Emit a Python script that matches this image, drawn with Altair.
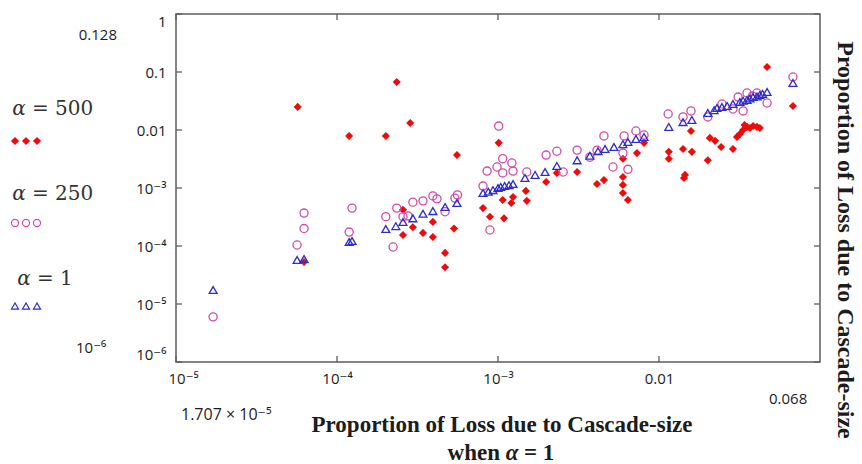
import altair as alt
import pandas as pd

# ---------------- data ----------------
A1_X = [1.70e-5, 5.65e-5, 6.24e-5, 1.19e-4, 1.24e-4, 2.01e-4, 2.32e-4, 2.57e-4, 2.96e-4, 3.42e-4,
        3.94e-4, 4.69e-4, 5.56e-4, 8.07e-4, 8.7e-4, 9.31e-4, 1.0e-3, 1.04e-3, 1.10e-3, 1.17e-3,
        1.24e-3, 1.47e-3, 1.70e-3, 1.96e-3, 2.32e-3, 3.10e-3, 3.72e-3, 4.18e-3, 4.62e-3, 5.25e-3,
        5.97e-3, 6.41e-3, 7.19e-3, 8.07e-3, 1.15e-2, 1.41e-2, 1.60e-2, 2.01e-2, 2.2e-2, 2.29e-2,
        2.46e-2, 2.65e-2, 2.88e-2, 3.18e-2, 3.33e-2, 3.52e-2, 3.67e-2, 3.84e-2, 4.06e-2, 4.23e-2,
        4.4e-2, 4.69e-2, 6.79e-2]
A1_Y = [1.74e-5, 5.74e-5, 5.97e-5, 1.17e-4, 1.22e-4, 1.96e-4, 2.2e-4, 2.6e-4, 3.0e-4, 3.6e-4,
        4.0e-4, 4.7e-4, 5.5e-4, 8.2e-4, 8.6e-4, 9.2e-4, 1.0e-3, 1.04e-3, 1.08e-3, 1.12e-3,
        1.17e-3, 1.49e-3, 1.68e-3, 1.89e-3, 2.4e-3, 3.0e-3, 3.6e-3, 4.3e-3, 4.7e-3, 5.1e-3,
        5.7e-3, 6.2e-3, 7.0e-3, 7.6e-3, 1.13e-2, 1.37e-2, 1.49e-2, 1.96e-2, 2.2e-2, 2.39e-2,
        2.49e-2, 2.6e-2, 2.81e-2, 3.04e-2, 3.2e-2, 3.29e-2, 3.5e-2, 3.71e-2, 3.8e-2, 4.0e-2,
        4.2e-2, 4.52e-2, 6.46e-2]

A250_X = [1.70e-5, 5.65e-5, 6.24e-5, 6.24e-5, 1.19e-4, 1.24e-4, 2.01e-4, 2.23e-4, 2.35e-4, 2.57e-4,
          2.76e-4, 2.96e-4, 3.42e-4, 3.94e-4, 4.18e-4, 4.69e-4, 5.4e-4, 5.6e-4, 8.07e-4, 8.55e-4,
          8.91e-4, 9.86e-4, 1.01e-3, 1.07e-3, 1.07e-3, 1.22e-3, 1.24e-3, 1.51e-3, 1.99e-3, 2.32e-3,
          2.54e-3, 3.10e-3, 3.72e-3, 4.12e-3, 4.55e-3, 5.18e-3, 5.97e-3, 6.07e-3, 6.41e-3, 7.19e-3,
          8.07e-3, 1.14e-2, 1.41e-2, 1.58e-2, 2.01e-2, 2.46e-2, 2.88e-2, 3.1e-2, 3.33e-2, 3.52e-2,
          3.8e-2, 4.06e-2, 4.69e-2, 6.79e-2]
A250_Y = [6.0e-6, 1.04e-4, 2.0e-4, 3.7e-4, 1.74e-4, 4.5e-4, 3.2e-4, 9.6e-5, 4.5e-4, 3.2e-4,
          3.3e-4, 5.7e-4, 6.0e-4, 7.3e-4, 6.5e-4, 3.9e-4, 6.7e-4, 7.6e-4, 1.08e-3, 1.96e-3,
          1.89e-4, 2.3e-3, 1.17e-2, 3.2e-3, 1.82e-3, 2.7e-3, 1.96e-3, 1.89e-3, 3.7e-3, 4.3e-3,
          1.89e-3, 4.5e-3, 3.4e-3, 4.5e-3, 7.9e-3, 2.3e-3, 4.0e-3, 7.9e-3, 2.1e-3, 9.6e-3,
          8.2e-3, 1.89e-2, 1.68e-2, 2.13e-2, 1.68e-2, 2.81e-2, 2.3e-2, 3.7e-2, 2.13e-2, 4.34e-2,
          3.85e-2, 4.34e-2, 2.92e-2, 8.2e-2]

A500_X = [5.7e-5, 6.24e-5, 1.19e-4, 2.01e-4, 2.35e-4, 2.57e-4, 2.57e-4, 2.85e-4, 2.96e-4, 3.42e-4,
          3.94e-4, 3.94e-4, 4.69e-4, 4.69e-4, 5.33e-4, 5.56e-4, 8.07e-4, 8.91e-4, 1.01e-3, 1.07e-3,
          1.09e-3, 1.21e-3, 1.24e-3, 1.49e-3, 1.51e-3, 1.99e-3, 2.32e-3, 3.10e-3, 4.12e-3, 4.55e-3,
          5.97e-3, 5.97e-3, 5.97e-3, 5.97e-3, 6.41e-3, 7.30e-3, 8.07e-3, 1.15e-2, 1.15e-2, 1.41e-2,
          1.43e-2, 1.45e-2, 1.58e-2, 1.60e-2, 2.01e-2, 2.07e-2, 2.23e-2, 2.43e-2, 2.88e-2, 3.05e-2,
          3.18e-2, 3.33e-2, 3.4e-2, 3.52e-2, 3.67e-2, 3.84e-2, 4.06e-2, 4.23e-2, 4.69e-2, 6.79e-2]
A500_Y = [2.5e-2, 5.3e-5, 7.9e-3, 7.9e-3, 6.72e-2, 4.2e-4, 1.55e-4, 1.32e-2, 2.1e-4, 1.68e-4,
          2.6e-4, 1.43e-4, 7.6e-5, 4.3e-5, 2.0e-4, 3.7e-3, 4.5e-4, 3.2e-4, 6.0e-3, 6.2e-4,
          3.0e-4, 5.5e-4, 7.0e-4, 8.9e-4, 6.0e-4, 1.27e-3, 1.82e-3, 1.89e-3, 1.17e-3, 1.37e-3,
          3.2e-3, 1.55e-3, 1.13e-3, 8.2e-4, 6.2e-4, 4.0e-3, 6.0e-3, 4.2e-3, 3.2e-3, 4.7e-3,
          1.49e-3, 1.68e-3, 9.6e-3, 4.2e-3, 3.0e-3, 7.3e-3, 6.5e-3, 5.1e-3, 4.7e-3, 7.6e-3,
          8.5e-3, 1.0e-2, 1.22e-2, 1.13e-2, 1.08e-2, 1.17e-2, 1.13e-2, 1.08e-2, 0.122, 2.59e-2]

X_TICKS = [1e-5, 1e-4, 1e-3, 1e-2]
X_LABELS = ["10⁻⁵", "10⁻⁴", "10⁻³", "0.01"]
Y_TICKS = [1e-6, 1e-5, 1e-4, 1e-3, 1e-2, 1e-1, 1]
Y_LABELS = ["10⁻⁶", "10⁻⁵", "10⁻⁴", "10⁻³", "0.01", "0.1", "1"]

SERIES = ["α = 500", "α = 250", "α = 1"]
RED, MAGENTA, BLUE = "#f00a0a", "#d04ca8", "#2c2cd0"

# ---------------- layout ----------------
W, H = 644, 348
PAD = {"left": 176, "top": 14, "right": 42, "bottom": 102}
FRAME = "#5e5e5e"
TXT = "#1c1c1c"
SANS = "Open Sans, DejaVu Sans"
SERIF = "Liberation Serif"

xscale = alt.Scale(type="log", domain=[1e-5, 0.1], nice=False)
yscale = alt.Scale(type="log", domain=[1e-6, 1], nice=False)

x_expr = "[" + ",".join(f"'{s}'" for s in X_LABELS) + "][round(log(datum.value)/LN10)+5]"
y_expr = "[" + ",".join(f"'{s}'" for s in Y_LABELS) + "][round(log(datum.value)/LN10)+6]"

xaxis = alt.Axis(values=X_TICKS, labelExpr=x_expr, title=None, ticks=False, domain=False,
                 grid=False, labelFont=SANS, labelFontSize=15, labelColor=TXT, labelPadding=9,
                 labelFlush=True, labelFlushOffset=8)
yaxis = alt.Axis(values=Y_TICKS, labelExpr=y_expr, title=None, ticks=False, domain=False,
                 grid=False, labelFont=SANS, labelFontSize=15, labelColor=TXT, labelPadding=10,
                 labelFlush=True)


def pts(xs, ys):
    assert len(xs) == len(ys)
    return pd.DataFrame({"x": xs, "y": ys})


def enc():
    return dict(x=alt.X("x:Q", scale=xscale, axis=xaxis),
                y=alt.Y("y:Q", scale=yscale, axis=yaxis))


diamonds = alt.Chart(pts(A500_X, A500_Y)).mark_point(
    shape="diamond", filled=True, size=66, color=RED, opacity=1).encode(**enc())
circles = alt.Chart(pts(A250_X, A250_Y)).mark_point(
    shape="circle", filled=False, size=66, color=MAGENTA, strokeWidth=1.3, opacity=1).encode(**enc())
triangles = alt.Chart(pts(A1_X, A1_Y)).mark_point(
    shape="triangle-up", filled=False, size=62, color=BLUE, strokeWidth=1.3, opacity=1).encode(**enc())

# inward tick marks on all four sides
xt = pd.DataFrame({"x": X_TICKS})
yt = pd.DataFrame({"y": Y_TICKS})
TL = 6
tick_layers = [
    alt.Chart(xt).mark_rule(color=FRAME, strokeWidth=1.3).encode(
        x=alt.X("x:Q", scale=xscale, axis=xaxis), y=alt.value(H), y2=alt.value(H - TL)),
    alt.Chart(xt).mark_rule(color=FRAME, strokeWidth=1.3).encode(
        x=alt.X("x:Q", scale=xscale, axis=xaxis), y=alt.value(0), y2=alt.value(TL)),
    alt.Chart(yt).mark_rule(color=FRAME, strokeWidth=1.3).encode(
        y=alt.Y("y:Q", scale=yscale, axis=yaxis), x=alt.value(0), x2=alt.value(TL)),
    alt.Chart(yt).mark_rule(color=FRAME, strokeWidth=1.3).encode(
        y=alt.Y("y:Q", scale=yscale, axis=yaxis), x=alt.value(W), x2=alt.value(W - TL)),
]

ONE = pd.DataFrame({"a": [0]})


def txt(text, x, y, size, font=SANS, align="left", baseline="alphabetic", weight="normal",
        style="normal", angle=0, color=TXT):
    return alt.Chart(ONE).mark_text(
        text=text, align=align, baseline=baseline, font=font, fontSize=size,
        fontWeight=weight, fontStyle=style, angle=angle, color=color
    ).encode(x=alt.value(x), y=alt.value(y))


def sym(shape, filled, color, x, y, size):
    return alt.Chart(ONE).mark_point(
        shape=shape, filled=filled, color=color, size=size, strokeWidth=1.2, opacity=1
    ).encode(x=alt.value(x), y=alt.value(y))


LEG_FONT = "DejaVu Serif"
legend_layers = []
for (label, base_y, sym_y, shape, filled, color, ax) in [
    ("= 500", 101, 127, "diamond", True, RED, -157),
    ("= 250", 186, 209, "circle", False, MAGENTA, -157),
    ("= 1", 271, 292, "triangle-up", False, BLUE, -152),
]:
    legend_layers.append(txt("α", ax, base_y, 20, font=LEG_FONT, align="center", style="italic", color="#333"))
    legend_layers.append(txt(label, ax + 13, base_y, 20, font=LEG_FONT, color="#333"))
    for sx in (-161, -150, -139):
        legend_layers.append(sym(shape, filled, color, sx, sym_y, 68 if shape == "diamond" else 50))

notes = [
    txt("0.128", -59, 26, 15, align="right"),
    txt("10⁻⁶", -100, 339, 15),
    txt("1.707 × 10⁻⁵", 5, 406, 16),
    txt("0.068", 593, 390, 15),
    txt("Proportion of Loss due to Cascade-size", 326, 418, 23, font=SERIF, align="center", weight="bold"),
    txt("when", 324, 446, 23, font=SERIF, align="right", weight="bold"),
    txt("α", 336, 446, 23, font=SERIF, align="center", weight="bold", style="italic"),
    txt("= 1", 348, 446, 23, font=SERIF, align="left", weight="bold"),
    txt("Proportion of Loss due to Cascade-size", 662, 226, 24, font=SERIF, align="center",
        weight="bold", angle=90),
]

chart = alt.layer(
    *tick_layers, diamonds, circles, triangles, *legend_layers, *notes
).properties(
    width=W, height=H,
    autosize=alt.AutoSizeParams(type="none"),
    padding=PAD,
    background="white",
).configure_view(stroke=FRAME, strokeWidth=1.5)

chart.save("out.html", embed_options={"renderer": "svg", "actions": False})
